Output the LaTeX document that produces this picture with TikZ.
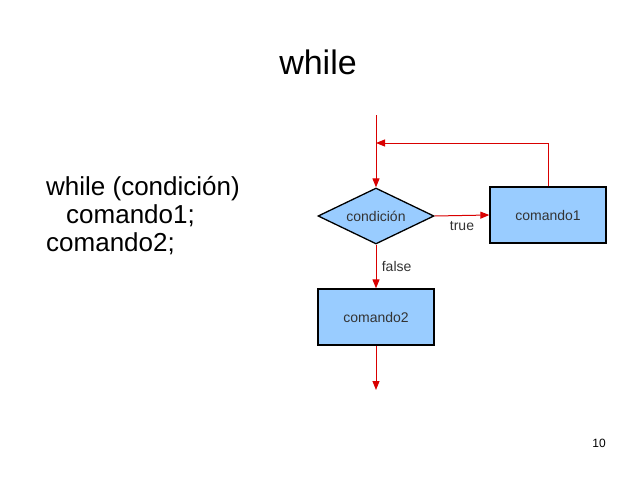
\documentclass[tikz,border=0pt]{standalone}
\usepackage{fontspec}
\setmainfont{Liberation Sans}
\usetikzlibrary{positioning}
\usetikzlibrary{shapes.geometric}
\usetikzlibrary{arrows.meta}

\definecolor{celeste}{HTML}{99CCFF}
\tikzset{
 bloque/.style={draw=black,line width=1.3pt,fill=celeste,minimum width=116pt,minimum height=56pt,font=\fontsize{14}{16}\selectfont,text=black!80},
 decision/.style={diamond,draw=black,line width=1.3pt,fill=celeste,aspect=2.1,minimum width=116pt,minimum height=56pt,inner sep=0pt,font=\fontsize{14}{16}\selectfont,text=black!80},
 flecha/.style={red!85!black,line width=1pt,-{Triangle[length=9pt,width=7pt]}},
 etiqueta/.style={font=\fontsize{14}{16}\selectfont,text=black!80}
}

\begin{document}
\begin{tikzpicture}[x=1pt,y=-1pt]
 \useasboundingbox (0,0) rectangle (638,479);
 \node[font=\fontsize{34}{38}\selectfont] (titulo) at (318,62) {while};
 \node[anchor=north west,align=left,font=\fontsize{26}{28}\selectfont,inner sep=0pt] (codigo) at (46,176)
  {while (condición)\\\hspace*{20pt}comando1;\\comando2;};
 \node[decision] (cond) at (376,216) {condición};
 \node[bloque] (cmd1) at (548,215) {comando1};
 \node[bloque] (cmd2) at (376,317) {comando2};
 \coordinate (entrada) at (376,115);
 \coordinate (retorno) at (376,143);
 \coordinate (salida) at (376,390);
 \node[font=\fontsize{12}{14}\selectfont\rmfamily] (pagina) at (599,443) {10};

 \draw[flecha] (entrada) -- (cond.north);
 \draw[flecha] (cmd1.north) |- (retorno);
 \draw[flecha] (cond.east) -- node[etiqueta,below=2pt] {true} (cmd1.west);
 \draw[flecha] (cond.south) -- node[etiqueta,right=2pt] {false} (cmd2.north);
 \draw[flecha] (cmd2.south) -- (salida);
\end{tikzpicture}
\end{document}
